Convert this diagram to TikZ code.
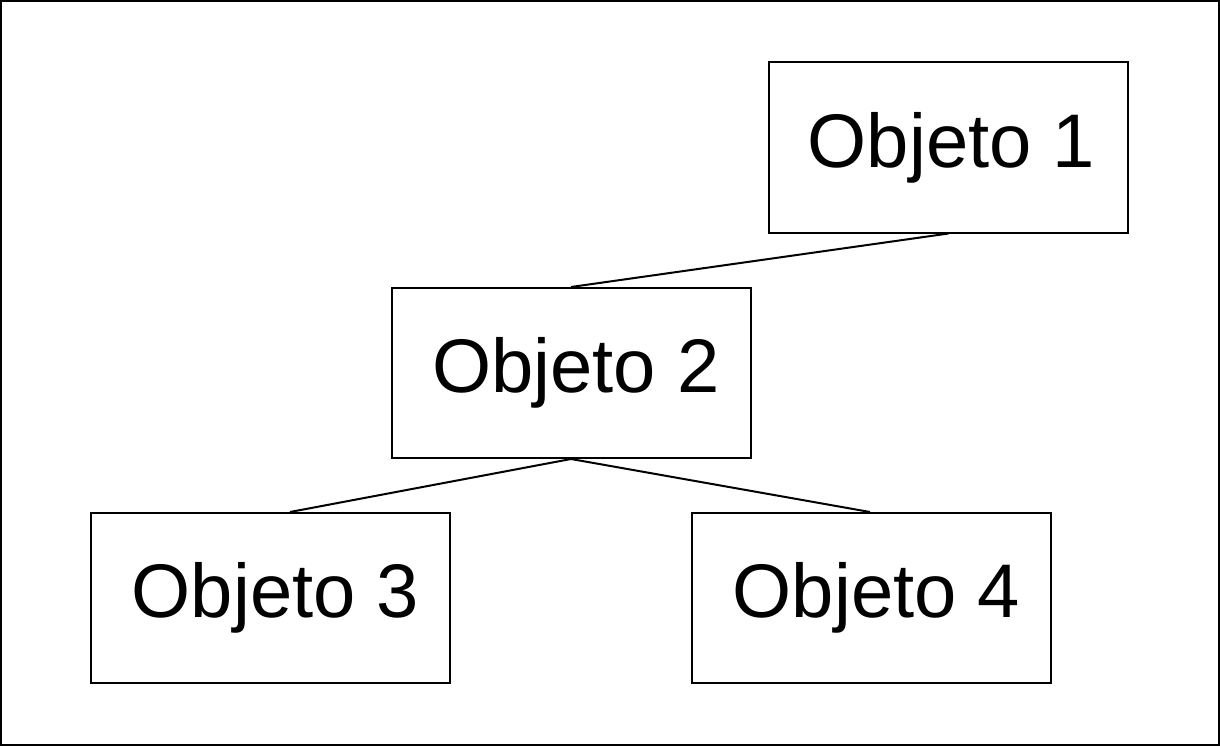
\documentclass[tikz,border=0pt]{standalone}
\usepackage{fontspec}
\setmainfont{Liberation Sans}
\begin{document}
\begin{tikzpicture}[x=1pt,y=-1pt,
  obj/.style={draw=black, line width=2pt, minimum width=359pt, minimum height=170pt, inner sep=0pt},
  objtext/.style={inner sep=0pt, font=\fontsize{76}{90}\selectfont},
  link/.style={draw=black, line width=2pt}]
\useasboundingbox (0,0) rectangle (1220,746);
\draw[line width=2pt] (1,1) rectangle (1219,745);
\node[obj] (o1) at (948.5,147.5) {};
\node[obj] (o2) at (571,373) {};
\node[obj] (o3) at (270.5,598) {};
\node[obj] (o4) at (871.5,598) {};
\node[objtext] (t1) at ([xshift=3pt]o1.center) {Objeto 1};
\node[objtext] (t2) at ([xshift=5pt]o2.center) {Objeto 2};
\node[objtext] (t3) at ([xshift=5pt]o3.center) {Objeto 3};
\node[objtext] (t4) at ([xshift=5pt]o4.center) {Objeto 4};
\draw[link] (o1.south) -- (o2.north);
\draw[link] (o2.south) -- ([xshift=19.5pt]o3.north);
\draw[link] (o2.south) -- ([xshift=-1.5pt]o4.north);
\end{tikzpicture}
\end{document}
